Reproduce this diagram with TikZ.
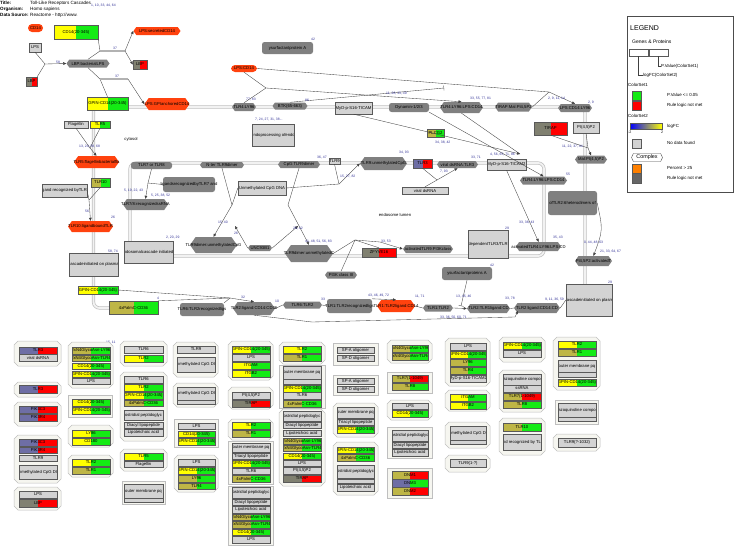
\documentclass[tikz,border=0pt]{standalone}
\usepackage{fontspec}
\setmainfont{Liberation Sans}
\usetikzlibrary{arrows.meta,shapes.symbols}

\definecolor{cOr}{RGB}{255,66,14}
\definecolor{cDk}{RGB}{128,128,128}
\definecolor{cL}{RGB}{211,211,211}
\definecolor{cY}{RGB}{255,255,0}
\definecolor{cG}{RGB}{20,235,20}
\definecolor{cO}{RGB}{190,182,70}
\definecolor{cR}{RGB}{255,0,0}
\definecolor{cB}{RGB}{110,110,165}
\definecolor{cT}{RGB}{128,128,112}
\definecolor{cCx}{RGB}{246,246,240}
\definecolor{cNum}{RGB}{50,50,150}

\tikzset{
  ln/.style={draw=black!75, line width=0.35pt},
  ar/.style={ln, -{Triangle[length=3pt,width=2.6pt]}},
  inh/.style={ln, -{Bar[width=5pt]}},
  rbar/.style={draw=black!30, line width=1.3pt},
  membrane/.style={draw=black!25, double=black!5, double distance=1.8pt, line width=.7pt, rounded corners=6pt},
  gpbox/.style={draw=black!65, line width=.35pt, inner sep=0pt},
  hexa/.style={signal, signal to=east and west, signal pointer angle=110, inner sep=0pt},
  dkbox/.style={rounded corners=2.5pt, fill=cDk, inner sep=0pt},
  pill/.style={rounded corners=4pt, fill=cOr, inner sep=0pt},
  cplx/.style={draw=black!25, fill=cCx, line width=.5pt},
  lab/.style={anchor=west, text=cNum, font=\fontsize{3.4}{4}\selectfont, inner sep=0pt},
  hdr/.style={anchor=west, inner sep=0pt, font=\fontsize{4.6}{5}\selectfont},
  lgtxt/.style={anchor=west, inner sep=0pt, font=\fontsize{4.4}{5}\selectfont},
}

% gene product box: name, x1, y1, x2, y2, left colour, right colour, text (clipped to the box)
\newcommand\gp[8]{\node[gpbox, fill=#7, minimum width={#4-#2}, minimum height={#5-#3},
  path picture={\fill[#6] (path picture bounding box.south west) rectangle (path picture bounding box.north);
    \node[inner sep=0pt] at (path picture bounding box.center) {#8};}]
  (#1) at ({(#2+#4)/2},{(#3+#5)/2}) {};}
% hexagon: name, cx, cy, w, h, fill, text
\newcommand\hx[7]{\node[hexa, fill=#6, minimum width=#4, minimum height=#5] (#1) at (#2,#3) {\makebox[0pt]{#7}};}
% rounded dark box and red pill: name, x1, y1, x2, y2, text
\newcommand\dk[6]{\node[dkbox, minimum width={#4-#2}, minimum height={#5-#3}] (#1) at ({(#2+#4)/2},{(#3+#5)/2}) {\makebox[0pt]{#6}};}
\newcommand\pl[6]{\node[pill, minimum width={#4-#2}, minimum height={#5-#3}] (#1) at ({(#2+#4)/2},{(#3+#5)/2}) {\makebox[0pt]{#6}};}
% complex outlines
\newcommand\oct[4]{\draw[cplx] ({#1+4},#2) -- ({#3-4},#2) -- (#3,{#2+4}) -- (#3,{#4-4}) -- ({#3-4},#4) -- ({#1+4},#4) -- (#1,{#4-4}) -- (#1,{#2+4}) -- cycle;}
\newcommand\crect[4]{\draw[cplx] (#1,#2) rectangle (#3,#4);}

\begin{document}
\begin{tikzpicture}[x=1pt, y=-1pt, every node/.style={font=\fontsize{4.2}{4.7}\selectfont}]
  \useasboundingbox (0,0) rectangle (735,546);

  % header
  \node[hdr] (tTl) at (0,3) {\bfseries Title:};
  \node[hdr] (tTv) at (30,3) {Toll-Like Receptors Cascades};
  \node[hdr] (tOr) at (0,9) {\bfseries Organism:};
  \node[hdr] (tOv) at (30,9) {Homo sapiens};
  \node[hdr] (tDs) at (0,15) {\bfseries Data Source:};
  \node[hdr] (tDv) at (30,15) {Reactome - http://www.};

  % compartments
  \draw[membrane] (128,107) -- (585,107) -- (585,284);
  \draw[membrane] (93.5,110) -- (93.5,308) -- (109,308);
  \draw[membrane] (130,163) rectangle (544,256);
  \node (cyto) at (131,139) {cytosol};
  \node (lumen) at (395,215) {endosome lumen};

  % plasma membrane side
  \pl{cdA}{28}{24}{43}{32}{CD14}
  \gp{cd14a}{54}{25}{98}{39}{cY}{cG}{CD14(20-345)}
  \gp{lpsA}{29}{43}{41}{52}{cL}{cL}{LPS}
  \gp{lbpA}{26}{77}{37}{86}{cT}{cR}{LBP}
  \hx{lbpLps}{88}{63.5}{43}{8}{cDk}{LBP:bacterialLPS}
  \hx{lpsSec}{157}{31}{47}{8}{cOr}{LPS:secretedCD14}
  \gp{lbpB}{133}{60}{147}{69}{cT}{cR}{LBP}
  \hx{lpsGpi}{167}{104}{45}{12}{cOr}{LPS:GPIanchoredCD14}
  \gp{gpinA}{87}{97}{128}{110}{cY}{cG}{GPIN-CD14(20-345)}
  \gp{flag}{64}{121}{88}{128}{cL}{cL}{Flagellin}
  \gp{tlr5}{90}{121}{110}{128}{cY}{cG}{TLR5}
  \hx{flagHex}{96.5}{162}{45}{12}{cOr}{TLR5:flagellinbacterialfla}
  \gp{tlr10}{91}{178}{110}{187}{cO}{cG}{TLR10}
  \gp{ligTlr}{42}{184}{87}{197}{cL}{cL}{gand recognized byTLR}
  \hx{tlr10hex}{90.5}{226.5}{45}{11}{cOr}{TLR10:ligandboundTLR}
  \gp{casL}{69}{253}{118}{276}{cL}{cL}{cascadeinitiated on plasma}
  \gp{gpinB}{78}{286}{118}{294}{cY}{cG}{GPIN-CD14(20-345)}
  \gp{palm}{109}{301}{158}{314}{cO}{cG}{4xPalmC-CD36}
  \dk{t6t2lig}{180}{303}{224}{316}{TLR6:TLR2recognizedligs}
  \hx{t2cd}{254}{308.5}{42}{13}{cDk}{TLR2:ligand:CD14:CD36}
  \pl{lpsCd14}{231}{65}{257}{72}{LPS:CD14}
  \dk{spA}{262}{42}{313}{54}{ysurfactantprotein A}
  \hx{tlr4ly}{244}{107}{24}{8}{cDk}{TLR4:LY96}
  \hx{btk}{290}{106}{35}{7}{cDk}{BTK(65-663)}
  \gp{myd}{335}{102}{372}{114}{cL}{cL}{MyD-p-S16-TICAM}
  \dk{dyn}{389}{103}{429}{112}{Dynamin-1/2/3}
  \hx{tlr4c}{461.5}{107.5}{43}{11}{cDk}{TLR4:LY96:LPS:CD14}
  \hx{ubq}{513.5}{107}{37}{9}{cDk}{TIRAP:Mal:PI4,5P2}
  \hx{lpsLy}{575}{108}{34}{8}{cDk}{LPS:CD14:LY96}
  \gp{tirap}{534}{122}{567}{135}{cT}{cR}{TIRAP}
  \gp{pip}{573}{122}{599}{133}{cL}{cL}{PI(4,5)P2}
  \hx{malPip}{591}{159.5}{32}{8}{cDk}{Mal:PI(4,5)P2}
  \gp{myd2}{487}{159}{526}{170}{cL}{cL}{MyD-p-S16-TICAM2}
  \hx{tlr4d}{543.5}{180.5}{47}{8}{cDk}{TLR4:LY96:LPS:CD14}
  \dk{hetero}{548}{191}{597}{215}{ofTLR2:6heterodimers of}
  \hx{actTlr4}{538.5}{246.5}{45}{9}{cDk}{activatedTLR4:LY96:LPS:CD}
  \hx{pipAct}{593.5}{261}{37}{10}{cDk}{PI4,5P2:activatedT}
  \gp{casR}{566}{284}{612}{316}{cL}{cL}{cascadeinitiated on plasm}

  % endosome side
  \gp{endoProc}{252}{124}{294}{146}{cL}{cL}{endoprocessing ofendo}
  \gp{plcg2}{427}{129}{444}{137}{cO}{cG}{PLCG2}
  \hx{cpgDim}{299}{164.5}{42}{7}{cDk}{CpG:TLR9dimer}
  \gp{tlr9}{329}{158}{340}{164}{cL}{cL}{TLR9}
  \hx{tlr9cpg}{383.5}{163.5}{47}{13}{cDk}{TLR9:unmethylatedCpG}
  \gp{tlr3}{413}{159}{432}{168}{cB}{cR}{TLR3}
  \hx{dsTlr3}{457.5}{164.5}{41}{7}{cDk}{viral dsRNA:TLR3}
  \gp{vds}{402}{187}{448}{194}{cL}{cL}{viral dsRNA}
  \gp{unmeth}{238}{181}{286}{195}{cL}{cL}{Unmethylated CpG DNA}
  \hx{ntr}{222}{165}{44}{6}{cDk}{N-ter TLR9dimer}
  \dk{tlr78}{131}{162}{172}{169}{TLR7 or TLR8}
  \dk{ligs78}{163}{177}{215}{192}{ligandsrecognizedbyTLR7 and}
  \hx{ssrna}{145.5}{204.5}{45}{11}{cDk}{TLR7/8:recognizedssRNA}
  \hx{dimCpg}{213.5}{245}{47}{16}{cDk}{TLR9dimer:unmethylatedCpG}
  \hx{ceal}{260}{248}{24}{6}{cDk}{UNC93B1}
  \hx{dimCpg2}{309}{253.5}{48}{17}{cDk}{TLR9dimer:unmethylatedC}
  \gp{zfy}{362}{248}{396}{257}{cT}{cR}{ZFYVE16}
  \hx{actPi3k}{428}{249}{50}{8}{cDk}{activatedTLR9:PI3Kclass}
  \gp{dep}{468}{230}{508}{258}{cL}{cL}{dependentTLR3/TLR}
  \gp{endoCasc}{124}{241}{173}{263}{cL}{cL}{endosomalcascade initiatedo}
  \hx{pi3k}{341}{275}{32}{7}{cDk}{PI3K class III}
  \dk{spA2}{442}{267}{492}{280}{ysurfactantproteins A}
  \hx{t6t2}{302.5}{305}{39}{7}{cDk}{TLR6:TLR2}
  \dk{t1t2lig}{327}{299}{372}{313}{TLR1:TLR2recognizedligs}
  \hx{t1t2cd}{396}{306}{38}{12}{cOr}{TLR1:TLR2ligand:CD14}
  \hx{t1t2}{438}{308}{30}{7}{cDk}{TLR1:TLR2}
  \hx{t2t1}{488.5}{308.5}{43}{9}{cDk}{TLR2:TLR1ligand:CD}
  \hx{t2lig}{537}{308}{46}{10}{cDk}{TLR2 ligand:CD14:CD}

  % reactions
  \coordinate (j1) at (45,64);
  \draw[ln] (lpsA.south) -- (j1);
  \draw[ln] (lbpA.north east) -- (j1);
  \draw[ar] (j1) -- (lbpLps.west);
  \coordinate (j2a) at (100,51);
  \coordinate (j2b) at (125,51);
  \draw[ln] (cd14a.south east) -- (j2a);
  \draw[ln] (lbpLps.north) -- (j2a);
  \draw[rbar] (j2a) -- (j2b);
  \draw[ar] (j2b) -- (lpsSec.west);
  \draw[ar] (j2b) -- (lbpB.west);
  \coordinate (j3a) at (100,79);
  \coordinate (j3b) at (128,79);
  \draw[ln] (lbpLps.south) -- (j3a);
  \draw[ln] (gpinA.north) -- (j3a);
  \draw[rbar] (j3a) -- (j3b);
  \draw[ar] (j3b) -- (lpsGpi.west);
  \coordinate (j4) at (90,148);
  \draw[ln] (flag.south) -- (j4);
  \draw[ln] (tlr5.south) -- (j4);
  \draw[ar] (j4) -- (flagHex.north);
  \coordinate (j5) at (89,200);
  \draw[ln] (ligTlr.east) -- (j5);
  \draw[ln] (tlr10.south) -- (j5);
  \draw[ar] (j5) -- (tlr10hex.north);
  \coordinate (j6) at (266,88);
  \coordinate (inh1) at (444,88);
  \draw[ln] (lpsCd14.south) -- (j6);
  \draw[ln] (tlr4ly.north) -- (j6);
  \draw[ar] (j6) -- (tlr4c.north);
  \draw[inh] (btk.north) -- (inh1);
  \coordinate (j7) at (549,92);
  \draw[ln] (lpsCd14.east) -- (j7);
  \draw[ln] (ubq.east) -- (j7);
  \draw[ar] (j7) -- (lpsLy.north);
  \coordinate (mydIn) at (520,154);
  \draw[ln] (tlr4c.south) -- (mydIn);
  \draw[ar] (myd.south) -- (mydIn);
  \draw[ar] (dyn.south east) -- (tlr4d.north);
  \draw[ar] (myd2.south) -- (actTlr4.north);
  \coordinate (j17) at (588,148);
  \draw[ln] (tirap.south) -- (j17);
  \draw[ln] (pip.south) -- (j17);
  \draw[ar] (j17) -- (malPip.north);
  \draw[ar] (hetero.east) .. controls (603,230) .. (pipAct.north);
  \coordinate (j8) at (148,183);
  \draw[ln] (tlr78.south) -- (j8);
  \draw[ln] (ligs78.west) -- (j8);
  \draw[ar] (j8) -- (ssrna.north);
  \coordinate (j9) at (232,205);
  \draw[ln] (ntr.south) -- (j9);
  \draw[ln] (unmeth.west) -- (j9);
  \draw[ar] (j9) -- (dimCpg.north);
  \coordinate (j18) at (288,205);
  \draw[ln] (cpgDim.south) -- (j18);
  \draw[ar] (j18) -- (dimCpg2.north);
  \coordinate (cIn1) at (235,226);
  \coordinate (cIn2) at (298,226);
  \draw[ar] (ceal.west) -- (cIn1);
  \draw[ar] (ceal.east) -- (cIn2);
  \coordinate (j10) at (339,184);
  \draw[ln] (tlr9.south) -- (j10);
  \draw[ln] (unmeth.east) -- (j10);
  \draw[ar] (j10) -- (tlr9cpg.west);
  \coordinate (j11) at (437,180);
  \draw[ln] (tlr3.south) -- (j11);
  \draw[ln] (vds.north) -- (j11);
  \draw[ar] (j11) -- (dsTlr3.south);
  \coordinate (j12) at (355,240);
  \coordinate (j12b) at (380,242);
  \draw[ln] (dimCpg2.east) -- (j12);
  \draw[ln] (pi3k.north) -- (j12);
  \draw[ln] (zfy.north) -- (j12);
  \draw[ln] (j12) -- (j12b);
  \draw[ar] (j12b) -- (actPi3k.west);
  \coordinate (j13) at (230,298);
  \draw[ln] (gpinB.east) -- (j13);
  \draw[ln] (palm.north east) -- (j13);
  \draw[ln] (t6t2lig.north east) -- (j13);
  \draw[ar] (j13) -- (t2cd.north);
  \draw[ln] (t2cd.east) -- (t6t2.west);
  \draw[ln] (t6t2.east) -- (t1t2lig.west);
  \draw[ar] (t1t2lig.north east) -- (t1t2cd.north);
  \draw[ln] (t1t2cd.east) -- (t1t2.west);
  \draw[ar] (t1t2.east) -- (t2t1.west);
  \coordinate (inh2) at (461,306);
  \draw[inh] (spA2.south) -- (inh2);
  \draw[ln] (t2t1.east) -- (t2lig.west);
  \draw[ln] (t2lig.east) -- (casR.west);
  \coordinate (j15) at (312,322);
  \coordinate (j15b) at (515,317);
  \coordinate (t2in) at (518,311);
  \draw[ln] (t2cd.south) -- (j15);
  \draw[ln] (j15) -- (j15b);
  \draw[ar] (j15b) -- (t2in);

  % reaction numbers
  \foreach \nm/\x/\y/\t in {h1/91/6/{1, 10, 33, 44, 64}, n58/56/62/58, n37a/113/48/37, n37b/115/76/37,
      n13/79/147/{13, 24, 58, 68}, n56/85/211/56, n26a/111/217/26, n77/246/100/{77, 83}, n86/305/100/86,
      n11/386/94/{11, 28, 33, 49}, n33/470/99/{33, 55, 77, 81}, n29/548/99/{2, 9, 11, 14}, n2/588/103/{2, 9},
      n42a/311/39/42, n7/255/120/{7, 24, 27, 31, 38...}, n34/435/143/{34, 38, 42}, n36/317/158/{36, 47},
      n93/399/153/{34, 93}, n71/471/158/{33, 71}, n793/440/172/{7, 93}, n15/340/177/{15, 27, 82},
      n22/562/147/{11, 22, 37, 44}, n4/490/155/{4, 56, 65, 71, 86}, n55/566/174/55,
      n5a/124/191/{5, 19, 22, 43}, n5b/151/196/{5, 25, 38, 52}, n40/218/223/{15, 40}, n26b/234/233/26,
      n2642/293/229/{26, 42}, n220/166/238/{2, 20, 29}, n5874/108/252/{58, 74}, n41/305/242/{41, 48, 51, 56, 83},
      n3353/381/242/{33, 53}, n29b/505/228/29, n3338/519/223/{33, 38, 43}, n3543/553/238/{35, 43},
      n044/584/243/{0, 44, 48, 63}, n2133/600/252/{21, 33, 64, 67}, n42b/490/265/42, n29c/608/282/29,
      n32/241/297/32, n10/275/301/10, n33a/321/299/33, n4346/368/296/{43, 46, 49, 72}, n1171/415/297/{11, 71},
      n1345/456/297/{13, 45, 46}, n3378/505/299/{33, 78}, n911/545/300/{9, 11, 36, 59},
      n3336/440/318/{33, 36, 50, 60, 71}, n4b/157/298/4, n1511a/106/343/{15, 11}, n1511b/420/343/{15, 11}}
    \node[lab] (\nm) at (\x,\y) {\t};

  % complexes, column 1
  \oct{14}{341}{61}{366}
  \gp{c1a}{19}{347}{57}{354}{cB}{cR}{TLR3}
  \gp{c1b}{19}{354}{57}{361}{cL}{cL}{viral dsRNA}
  \oct{14}{382}{61}{397}
  \gp{c2a}{19}{385}{57}{393}{cB}{cR}{TLR3}
  \oct{14}{402}{61}{426}
  \gp{c3a}{19}{406}{57}{413}{cB}{cR}{PIK3C3}
  \gp{c3b}{19}{414}{57}{421}{cB}{cR}{PIK3R4}
  \oct{14}{435}{61}{483}
  \gp{c4a}{19}{439}{57}{446}{cB}{cR}{PIK3C3}
  \gp{c4b}{19}{447}{57}{453}{cB}{cR}{PIK3R4}
  \gp{c4c}{19}{455}{57}{461}{cL}{cL}{TLR9}
  \gp{c4d}{19}{465}{57}{479}{cL}{cL}{nmethylated CpG DI}
  \oct{14}{487}{61}{510}
  \gp{c5a}{19}{491}{57}{498}{cL}{cL}{LPS}
  \gp{c5b}{19}{499}{57}{507}{cT}{cR}{LBP}
  % column 2
  \oct{68}{342}{113}{388}
  \gp{c6a}{72}{347}{110}{354}{cO}{cG}{2xN4GlycoAsn-LY96}
  \gp{c6b}{72}{355}{110}{361}{cO}{cG}{2xN4GlycoAsn-TLR4}
  \gp{c6c}{72}{363}{110}{369}{cY}{cG}{CD14(20-345)}
  \gp{c6d}{72}{371}{110}{377}{cY}{cG}{GPIN-CD14(20-345)}
  \gp{c6e}{72}{378}{110}{384}{cL}{cL}{LPS}
  \crect{68}{395}{112}{417}
  \gp{c7a}{72}{399}{110}{406}{cY}{cG}{CD14(20-345)}
  \gp{c7b}{72}{407}{110}{414}{cY}{cG}{GPIN-CD14(20-345)}
  \oct{68}{425}{113}{447}
  \gp{c8a}{72}{430}{110}{437}{cY}{cG}{LY86}
  \gp{c8b}{72}{438}{110}{445}{cY}{cG}{CD180}
  \oct{68}{455}{113}{477}
  \gp{c9a}{72}{459}{110}{466}{cY}{cG}{TLR2}
  \gp{c9b}{72}{467}{110}{474}{cO}{cG}{TLR1}
  % column 3
  \oct{120}{341}{167}{366}
  \gp{c10a}{124}{346}{163}{353}{cL}{cL}{TLR6}
  \gp{c10b}{124}{355}{163}{362}{cY}{cG}{TLR2}
  \oct{120}{372}{167}{441}
  \gp{c11a}{124}{376}{163}{383}{cL}{cL}{TLR6}
  \gp{c11b}{124}{384}{163}{391}{cY}{cG}{TLR2}
  \gp{c11c}{124}{392}{163}{399}{cY}{cG}{GPIN-CD14(20-345)}
  \gp{c11d}{124}{400}{163}{406}{cO}{cG}{4xPalmC-CD36}
  \gp{c11e}{124}{410}{163}{420}{cL}{cL}{ostridial peptidoglyc}
  \gp{c11f}{124}{422}{163}{428}{cL}{cL}{Diacyl lipopeptide}
  \gp{c11g}{124}{429}{163}{436}{cL}{cL}{Lipoteichoic acid}
  \oct{120}{449}{167}{471}
  \gp{c12a}{124}{453}{163}{460}{cY}{cG}{TLR5}
  \gp{c12b}{124}{461}{163}{467}{cL}{cL}{Flagellin}
  \crect{122}{481}{165}{504}
  \gp{c13a}{124}{484}{163}{498}{cL}{cL}{outer membrane pq}
  \gp{c13b}{124}{498}{163}{502}{cL}{cL}{}
  % column 4
  \oct{173}{342}{218}{377}
  \gp{c14a}{177}{346}{215}{353}{cL}{cL}{TLR9}
  \gp{c14b}{177}{357}{215}{372}{cL}{cL}{nmethylated CpG DI}
  \oct{173}{383}{218}{407}
  \gp{c15a}{177}{387}{215}{400}{cL}{cL}{nmethylated CpG DI}
  \gp{c15b}{177}{400}{215}{404}{cL}{cL}{}
  \crect{174}{419}{218}{447}
  \gp{c16a}{178}{423}{215}{429}{cL}{cL}{LPS}
  \gp{c16b}{178}{431}{215}{437}{cY}{cG}{CD14(20-345)}
  \gp{c16c}{178}{438}{215}{445}{cY}{cG}{GPIN-CD14(20-345)}
  \oct{174}{455}{218}{492}
  \gp{c17a}{178}{459}{215}{466}{cL}{cL}{LPS}
  \gp{c17b}{178}{467}{215}{474}{cY}{cG}{GPIN-CD14(20-345)}
  \gp{c17c}{178}{475}{215}{482}{cO}{cG}{LY96}
  \gp{c17d}{178}{483}{215}{489}{cO}{cG}{TLR4}
  % column 5
  \oct{228}{341}{273}{380}
  \gp{c18a}{232}{346}{270}{353}{cY}{cG}{GPIN-CD14(20-345)}
  \gp{c18b}{232}{354}{270}{361}{cL}{cL}{LPS}
  \gp{c18c}{232}{362}{270}{369}{cY}{cG}{ITGAM}
  \gp{c18d}{232}{370}{270}{377}{cY}{cG}{ITGB2}
  \oct{228}{387}{273}{409}
  \gp{c19a}{232}{392}{270}{399}{cL}{cL}{PI(4,5)P2}
  \gp{c19b}{232}{400}{270}{407}{cT}{cR}{TIRAP}
  \oct{228}{419}{273}{440}
  \gp{c20a}{232}{422}{270}{429}{cY}{cG}{TLR2}
  \gp{c20b}{232}{430}{270}{437}{cO}{cG}{TLR1}
  \crect{228}{441}{273}{484}
  \gp{c20c}{232}{443}{270}{452}{cL}{cL}{outer membrane pq}
  \gp{c20d}{232}{453}{270}{459}{cL}{cL}{Triacyl lipopeptide}
  \gp{c20e}{232}{460}{270}{467}{cY}{cG}{GPIN-CD14(20-345)}
  \gp{c20f}{232}{468}{270}{474}{cL}{cL}{TLR6}
  \gp{c20g}{232}{475}{270}{482}{cO}{cG}{4xPalmC-CD36}
  \crect{228}{486}{273}{545}
  \gp{c20h}{232}{487}{270}{498}{cL}{cL}{ostridial peptidoglyc}
  \gp{c20i}{232}{499}{270}{505}{cL}{cL}{Diacyl lipopeptide}
  \gp{c20j}{232}{506}{270}{513}{cL}{cL}{Lipoteichoic acid}
  \gp{c20k}{232}{514}{270}{520}{cO}{cG}{2xN4GlycoAsn-LY96}
  \gp{c20l}{232}{521}{270}{528}{cO}{cG}{2xN4GlycoAsn-TLR4}
  \gp{c20m}{232}{529}{270}{535}{cY}{cG}{CD14(20-345)}
  \gp{c20n}{232}{536}{270}{543}{cL}{cL}{LPS}
  % column 6
  \oct{279}{342}{325}{364}
  \gp{c21a}{283}{346}{321}{353}{cY}{cG}{TLR2}
  \gp{c21b}{283}{354}{321}{361}{cO}{cG}{TLR1}
  \crect{279}{365}{325}{408}
  \gp{c22a}{283}{366}{321}{379}{cL}{cL}{outer membrane pq}
  \gp{c22b}{283}{379}{321}{384}{cL}{cL}{}
  \gp{c22c}{283}{385}{321}{392}{cY}{cG}{GPIN-CD14(20-345)}
  \gp{c22d}{283}{392}{321}{399}{cL}{cL}{TLR6}
  \gp{c22e}{283}{400}{321}{407}{cO}{cG}{4xPalmC-CD36}
  \oct{279}{409}{325}{486}
  \gp{c23a}{283}{411}{321}{421}{cL}{cL}{ostridial peptidoglyc}
  \gp{c23b}{283}{422}{321}{428}{cL}{cL}{Diacyl lipopeptide}
  \gp{c23c}{283}{430}{321}{436}{cL}{cL}{Lipoteichoic acid}
  \gp{c23d}{283}{438}{321}{444}{cO}{cG}{2xN4GlycoAsn-LY96}
  \gp{c23e}{283}{445}{321}{451}{cO}{cG}{2xN4GlycoAsn-TLR4}
  \gp{c23f}{283}{453}{321}{459}{cY}{cG}{CD14(20-345)}
  \gp{c23g}{283}{460}{321}{466}{cL}{cL}{LPS}
  \gp{c23h}{283}{467}{321}{474}{cL}{cL}{PI(4,5)P2}
  \gp{c23i}{283}{475}{321}{482}{cT}{cR}{TIRAP}
  % column 7
  \crect{333}{343}{378}{365}
  \gp{c24a}{337}{347}{374}{353}{cL}{cL}{SP-A oligomer}
  \gp{c24b}{337}{355}{374}{361}{cL}{cL}{SP-D oligomer}
  \crect{333}{375}{378}{395}
  \gp{c25a}{337}{378}{374}{384}{cL}{cL}{SP-A oligomer}
  \gp{c25b}{337}{386}{374}{392}{cL}{cL}{SP-D oligomer}
  \oct{333}{403}{378}{437}
  \gp{c26a}{337}{407}{374}{418}{cL}{cL}{outer membrane pq}
  \gp{c26b}{337}{419}{374}{425}{cL}{cL}{Triacyl lipopeptide}
  \gp{c26c}{337}{426}{374}{433}{cY}{cG}{GPIN-CD14(20-345)}
  \oct{333}{442}{378}{495}
  \gp{c27a}{337}{447}{374}{453}{cY}{cG}{GPIN-CD14(20-345)}
  \gp{c27b}{337}{454}{374}{461}{cO}{cG}{4xPalmC-CD36}
  \gp{c27c}{337}{465}{374}{478}{cL}{cL}{ostridial peptidoglyc}
  \gp{c27d}{337}{479}{374}{483}{cL}{cL}{}
  \gp{c27e}{337}{484}{374}{491}{cL}{cL}{Lipoteichoic acid}
  % column 8
  \oct{387}{340}{432}{363}
  \gp{c28a}{392}{345}{428}{352}{cO}{cG}{2xN4GlycoAsn-LY96}
  \gp{c28b}{392}{353}{428}{360}{cO}{cG}{2xN4GlycoAsn-TLR4}
  \crect{387}{372}{432}{393}
  \gp{c29a}{392}{375}{428}{382}{cO}{cR}{TLR7(1-1049)}
  \gp{c29b}{392}{383}{428}{390}{cO}{cG}{TLR8}
  \oct{387}{400}{432}{420}
  \gp{c30a}{392}{403}{428}{409}{cL}{cL}{LPS}
  \gp{c30b}{392}{410}{428}{417}{cY}{cG}{CD14(20-345)}
  \crect{387}{427}{432}{458}
  \gp{c31a}{392}{430}{428}{441}{cL}{cL}{ostridial peptidoglyc}
  \gp{c31b}{392}{442}{428}{448}{cL}{cL}{Diacyl lipopeptide}
  \gp{c31c}{392}{449}{428}{456}{cL}{cL}{Lipoteichoic acid}
  \crect{387}{468}{432}{498}
  \gp{c32a}{392}{471}{428}{479}{cO}{cR}{DNM1}
  \gp{c32b}{392}{479}{428}{487}{cB}{cG}{DNM3}
  \gp{c32c}{392}{487}{428}{495}{cO}{cR}{DNM2}
  % column 9
  \oct{445}{338}{490}{386}
  \gp{c33a}{450}{343}{486}{350}{cL}{cL}{LPS}
  \gp{c33b}{450}{351}{486}{358}{cY}{cG}{GPIN-CD14(20-345)}
  \gp{c33c}{450}{359}{486}{366}{cO}{cG}{LY96}
  \gp{c33d}{450}{367}{486}{374}{cO}{cG}{TLR4}
  \gp{c33e}{450}{375}{486}{382}{cL}{cL}{MyD-p-S16-TICAM2}
  \oct{445}{390}{490}{411}
  \gp{c34a}{450}{394}{486}{401}{cY}{cG}{ITGAM}
  \gp{c34b}{450}{402}{486}{409}{cY}{cG}{ITGB2}
  \oct{445}{422}{490}{448}
  \gp{c35a}{450}{426}{486}{440}{cL}{cL}{nmethylated CpG DI}
  \gp{c35b}{450}{440}{486}{444}{cL}{cL}{}
  \oct{445}{455}{490}{472}
  \gp{c36a}{450}{459}{486}{467}{cL}{cL}{TLR9(1-?)}
  % column 10
  \oct{499}{337}{545}{362}
  \gp{c37a}{503}{342}{541}{349}{cY}{cG}{GPIN-CD14(20-345)}
  \gp{c37b}{503}{350}{541}{357}{cL}{cL}{LPS}
  \oct{499}{370}{545}{412}
  \gp{c38a}{503}{374}{541}{385}{cL}{cL}{azoquinoline compo}
  \gp{c38b}{503}{385}{541}{392}{cL}{cL}{ssRNA}
  \gp{c38c}{503}{393}{541}{400}{cO}{cR}{TLR7(1-1049)}
  \gp{c38d}{503}{401}{541}{408}{cO}{cG}{TLR8}
  \oct{499}{418}{545}{455}
  \gp{c39a}{503}{423}{541}{431}{cO}{cG}{TLR10}
  \gp{c39b}{503}{434}{541}{450}{cL}{cL}{nd recognized by TL}
  % column 11
  \oct{553}{337}{600}{390}
  \gp{c40a}{558}{341}{596}{348}{cY}{cG}{TLR2}
  \gp{c40b}{558}{349}{596}{356}{cO}{cG}{TLR1}
  \gp{c40c}{558}{360}{596}{372}{cL}{cL}{outer membrane pq}
  \gp{c40d}{558}{372}{596}{377}{cL}{cL}{}
  \gp{c40e}{558}{379}{596}{386}{cY}{cG}{GPIN-CD14(20-345)}
  \crect{555}{400}{598}{424}
  \gp{c41a}{558}{403}{596}{417}{cL}{cL}{azoquinoline compo}
  \gp{c41b}{558}{417}{596}{421}{cL}{cL}{}
  \oct{553}{434}{600}{451}
  \gp{c42a}{558}{438}{596}{447}{cL}{cL}{TLR9(?-1032)}

  % legend
  \draw[draw=black!70, fill=white, line width=.5pt] (627,16) rectangle (733,192);
  \node[lgtxt, font=\fontsize{7}{8}\selectfont] (lgT) at (630,28) {LEGEND};
  \node[lgtxt, font=\fontsize{5}{6}\selectfont] (lgGp) at (632,42) {Genes \& Proteins};
  \node[gpbox, fill=white, minimum width=19, minimum height=7] (lgB1) at (638.5,52.5) {};
  \node[gpbox, fill=white, minimum width=19, minimum height=7] (lgB2) at (658.5,52.5) {};
  \node[lgtxt] (lgLf) at (643,75) {logFC(ColorSet2)};
  \node[lgtxt] (lgPv) at (661,66) {P.Value(ColorSet1)};
  \draw[ln] (lgB1.south) |- (lgLf.west);
  \draw[ln] (lgB2.south) |- (lgPv.west);
  \node[lgtxt] (lgC1) at (628,85) {ColorSet1};
  \draw[gpbox, fill=cG] (632,91) rectangle (641,100);
  \draw[gpbox, fill=cR] (632,101) rectangle (641,110);
  \node[lgtxt] (lgPq) at (667,95) {P.Value <= 0.05};
  \node[lgtxt] (lgRl) at (667,105) {Rule logic not met};
  \node[lgtxt] (lgC2) at (628,116) {ColorSet2};
  \shade[left color=blue, right color=yellow] (630,123) rectangle (662,129);
  \draw[gpbox] (630,123) rectangle (662,129);
  \node[lgtxt, font=\fontsize{3.6}{4}\selectfont] (lgM2) at (628,132) {-2};
  \node[lgtxt, font=\fontsize{3.6}{4}\selectfont] (lgP2) at (661,132) {2};
  \node[lgtxt] (lgFc) at (667,126) {logFC};
  \draw[gpbox, fill=cL] (632,139) rectangle (641,148);
  \node[lgtxt] (lgNd) at (667,143) {No data found};
  \node[hexa, draw=black!70, fill=white, minimum width=31, minimum height=8, signal pointer angle=130,
    font=\fontsize{5.4}{6}\selectfont] (lgCx) at (647,157.5) {Complex};
  \draw[gpbox, fill=orange] (632,164) rectangle (641,173);
  \draw[gpbox, fill=black!60] (632,173) rectangle (641,183);
  \node[lgtxt] (lgPc) at (667,168) {Percent > 25};
  \node[lgtxt] (lgRl2) at (667,178) {Rule logic not met};
\end{tikzpicture}
\end{document}
